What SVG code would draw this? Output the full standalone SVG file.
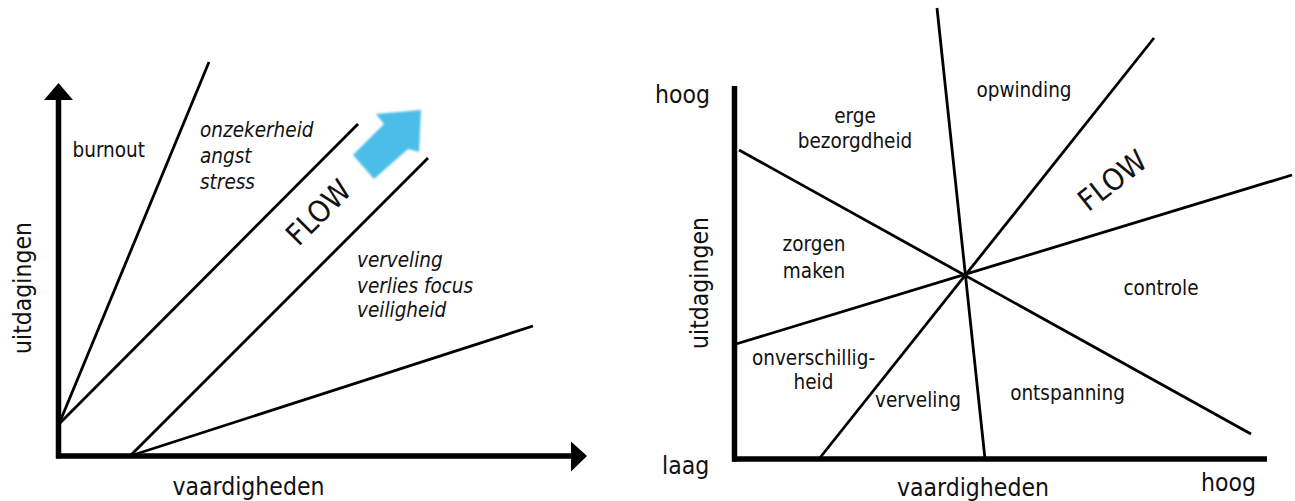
<svg xmlns="http://www.w3.org/2000/svg" width="1295" height="501" viewBox="0 0 1295 501">
<style>
  .t { font-family: "DejaVu Sans Condensed", "DejaVu Sans", sans-serif; fill: #111; }
  .ax { font-size: 24.5px; }
  .lb { font-size: 20.5px; }
  .it { font-size: 20.5px; font-style: italic; }
  .fl { font-size: 30px; }
  .axis { stroke: #000; stroke-width: 5.5; fill: none; }
  .ln { stroke: #000; stroke-width: 2.8; fill: none; stroke-linecap: butt; }
</style>
<defs>
  <filter id="soft" x="-10%" y="-10%" width="120%" height="120%">
    <feGaussianBlur stdDeviation="0.9"/>
  </filter>
</defs>
<rect width="1295" height="501" fill="#fff"/>

<!-- LEFT CHART -->
<g id="left-axes">
  <line class="axis" x1="58.5" y1="458.5" x2="58.5" y2="98"/>
  <polygon points="58.5,83 44,100 73,100" fill="#000"/>
  <line class="axis" x1="56" y1="456" x2="573" y2="456"/>
  <polygon points="587,456 571,441.5 571,471.5" fill="#000"/>
</g>
<g id="left-connectors">
  <line class="ln" x1="59" y1="424" x2="209" y2="62"/>
  <line class="ln" x1="59" y1="424" x2="358" y2="124"/>
  <line class="ln" x1="130" y1="456" x2="428" y2="158"/>
  <line class="ln" x1="130" y1="456" x2="533" y2="326"/>
</g>
<g id="left-arrow">
  <polygon points="376,114 421,110 419,152 408,149 374,179 353,155 384,124" fill="#4BBDE8" filter="url(#soft)"/>
</g>
<g id="label-burnout"><text class="t lb" x="72.5" y="156.5">burnout</text></g>
<g id="label-onzekerheid">
  <text class="t it" x="200" y="137">onzekerheid</text>
  <text class="t it" x="200" y="163">angst</text>
  <text class="t it" x="200" y="189">stress</text>
</g>
<g id="label-flow-left"><text class="t fl" text-anchor="middle" transform="translate(318,212) rotate(-45)" y="11">FLOW</text></g>
<g id="label-verveling-left">
  <text class="t it" x="357" y="267">verveling</text>
  <text class="t it" x="357" y="292.5">verlies focus</text>
  <text class="t it" x="357" y="317">veiligheid</text>
</g>
<g id="label-uitdagingen-left"><text class="t ax" text-anchor="middle" transform="translate(31,288) rotate(-90)">uitdagingen</text></g>
<g id="label-vaardigheden-left"><text class="t ax" text-anchor="middle" x="248.5" y="495">vaardigheden</text></g>

<!-- RIGHT CHART -->
<g id="right-axes">
  <line class="axis" x1="734.5" y1="86" x2="734.5" y2="461.5"/>
  <line class="axis" x1="732" y1="459" x2="1267" y2="459"/>
</g>
<g id="right-connectors">
  <line class="ln" x1="937" y1="8" x2="985" y2="459"/>
  <line class="ln" x1="1154" y1="38" x2="819" y2="459"/>
  <line class="ln" x1="1292" y1="175" x2="736" y2="344"/>
  <line class="ln" x1="739" y1="150" x2="1251" y2="434"/>
</g>
<g id="label-hoog-y"><text class="t ax" x="655" y="103">hoog</text></g>
<g id="label-laag"><text class="t ax" x="662" y="474">laag</text></g>
<g id="label-hoog-x"><text class="t ax" x="1201" y="491">hoog</text></g>
<g id="label-uitdagingen-right"><text class="t ax" text-anchor="middle" transform="translate(708,283) rotate(-90)">uitdagingen</text></g>
<g id="label-vaardigheden-right"><text class="t ax" text-anchor="middle" x="973" y="496">vaardigheden</text></g>
<g id="label-erge">
  <text class="t lb" text-anchor="middle" x="855" y="123">erge</text>
  <text class="t lb" text-anchor="middle" x="855" y="148">bezorgdheid</text>
</g>
<g id="label-opwinding"><text class="t lb" text-anchor="middle" x="1024" y="97">opwinding</text></g>
<g id="label-flow-right"><text class="t fl" text-anchor="middle" transform="translate(1112,180) rotate(-38)" y="11">FLOW</text></g>
<g id="label-zorgen">
  <text class="t lb" text-anchor="middle" x="814" y="251">zorgen</text>
  <text class="t lb" text-anchor="middle" x="814" y="278">maken</text>
</g>
<g id="label-controle"><text class="t lb" text-anchor="middle" x="1161" y="295">controle</text></g>
<g id="label-onverschilligheid">
  <text class="t lb" text-anchor="middle" x="813.5" y="365">onverschillig-</text>
  <text class="t lb" text-anchor="middle" x="813.5" y="389">heid</text>
</g>
<g id="label-verveling-right"><text class="t lb" text-anchor="middle" x="918" y="407">verveling</text></g>
<g id="label-ontspanning"><text class="t lb" text-anchor="middle" x="1067.5" y="400">ontspanning</text></g>
</svg>
